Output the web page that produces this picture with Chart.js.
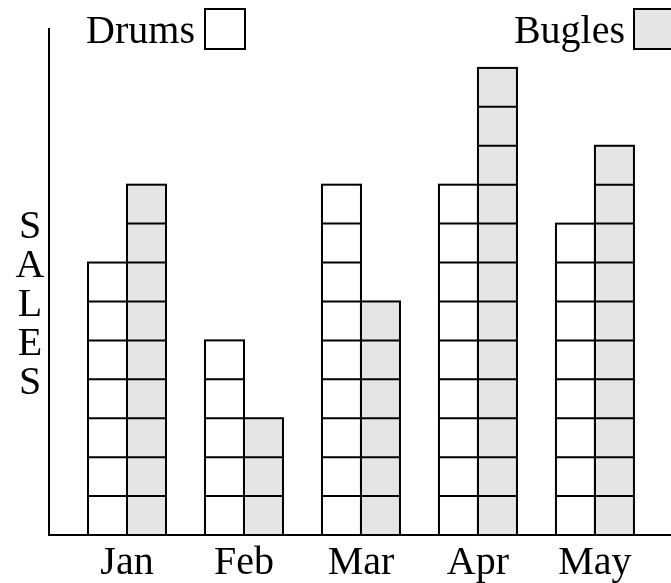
<!DOCTYPE html>
<html>
<head>
<meta charset="utf-8">
<script src="https://cdn.jsdelivr.net/npm/chart.js@4.4.1/dist/chart.umd.min.js"></script>
<style>
  html, body { margin: 0; padding: 0; background: #fff; }
  #wrap { width: 671px; height: 583px; }
</style>
</head>
<body>
<div id="wrap"><canvas id="sales"></canvas></div>
<script>
const months = ["Jan", "Feb", "Mar", "Apr", "May"];
const drums = [7, 5, 9, 9, 8];
const bugles = [9, 3, 6, 12, 10];
const axisTitle = "SALES";

const FONT = "Liberation Serif";
Chart.defaults.font.family = FONT;
Chart.defaults.color = "#000";

// Chart.js fills the bars, the outlines and unit blocks are stroked here
const blocks = {
  id: "blocks",
  afterDatasetsDraw(chart) {
    const ctx = chart.ctx;
    const yScale = chart.scales.y;
    ctx.save();
    ctx.strokeStyle = "#000";
    ctx.lineWidth = 2;
    chart.data.datasets.forEach((ds, i) => {
      chart.getDatasetMeta(i).data.forEach((bar, j) => {
        const p = bar.getProps(["x", "y", "base", "width"], true);
        const left = p.x - p.width / 2;
        ctx.strokeRect(left, p.y, p.width, p.base - p.y);
        for (let k = 1; k < ds.data[j].y; k++) {
          const yy = yScale.getPixelForValue(k);
          ctx.beginPath();
          ctx.moveTo(left, yy);
          ctx.lineTo(left + p.width, yy);
          ctx.stroke();
        }
      });
    });
    ctx.restore();
  }
};

// legend boxes and the stacked axis title
const labels = {
  id: "labels",
  afterDraw(chart) {
    const ctx = chart.ctx;
    const spots = [{ text: 195, box: 205 }, { text: 625, box: 634 }];
    ctx.save();
    ctx.font = "40px " + FONT;
    ctx.lineWidth = 2;
    ctx.strokeStyle = "#000";
    chart.data.datasets.forEach((ds, i) => {
      ctx.textAlign = "right";
      ctx.textBaseline = "alphabetic";
      ctx.fillStyle = "#000";
      ctx.fillText(ds.label, spots[i].text, 43);
      ctx.fillStyle = ds.backgroundColor;
      ctx.fillRect(spots[i].box, 9, 40, 40);
      ctx.strokeRect(spots[i].box, 9, 40, 40);
    });
    ctx.fillStyle = "#000";
    ctx.textAlign = "center";
    ctx.textBaseline = "middle";
    [...axisTitle].forEach((ch, i) => ctx.fillText(ch, 30, 227 + i * 39));
    ctx.restore();
  }
};

new Chart(document.getElementById("sales"), {
  type: "bar",
  data: {
    datasets: [
      {
        label: "Drums",
        data: drums.map((v, i) => ({ x: i + 1, y: v })),
        backgroundColor: "#ffffff",
      },
      {
        label: "Bugles",
        data: bugles.map((v, i) => ({ x: i + 1, y: v })),
        backgroundColor: "#e5e5e5",
      },
    ],
  },
  options: {
    responsive: true,
    maintainAspectRatio: false,
    animation: false,
    layout: {
      padding: { top: 29, right: 0, left: 0, bottom: 0 },
    },
    datasets: {
      bar: {
        borderWidth: 0,
        inflateAmount: 0,
        categoryPercentage: 2 / 3,
        barPercentage: 1,
      },
    },
    plugins: {
      legend: { display: false },
      tooltip: { enabled: false },
    },
    scales: {
      x: {
        type: "linear",
        offset: false,
        min: 1 / 3,
        max: 5.65,
        afterFit: (s) => { s.height = 48; },
        afterBuildTicks: (s) => {
          s.ticks = months.map((m, i) => ({ value: i + 1 }));
        },
        ticks: {
          callback: (v) => months[v - 1],
          font: { size: 40 },
          padding: 4,
          autoSkip: false,
          maxRotation: 0,
        },
        grid: { display: false, drawTicks: false, offset: false },
        border: { color: "#000", width: 2 },
      },
      y: {
        min: 0,
        max: 13,
        afterFit: (s) => { s.width = 49; },
        ticks: { display: false },
        grid: { display: false, drawTicks: false },
        border: { color: "#000", width: 2 },
      },
    },
  },
  plugins: [blocks, labels],
});
</script>
</body>
</html>
